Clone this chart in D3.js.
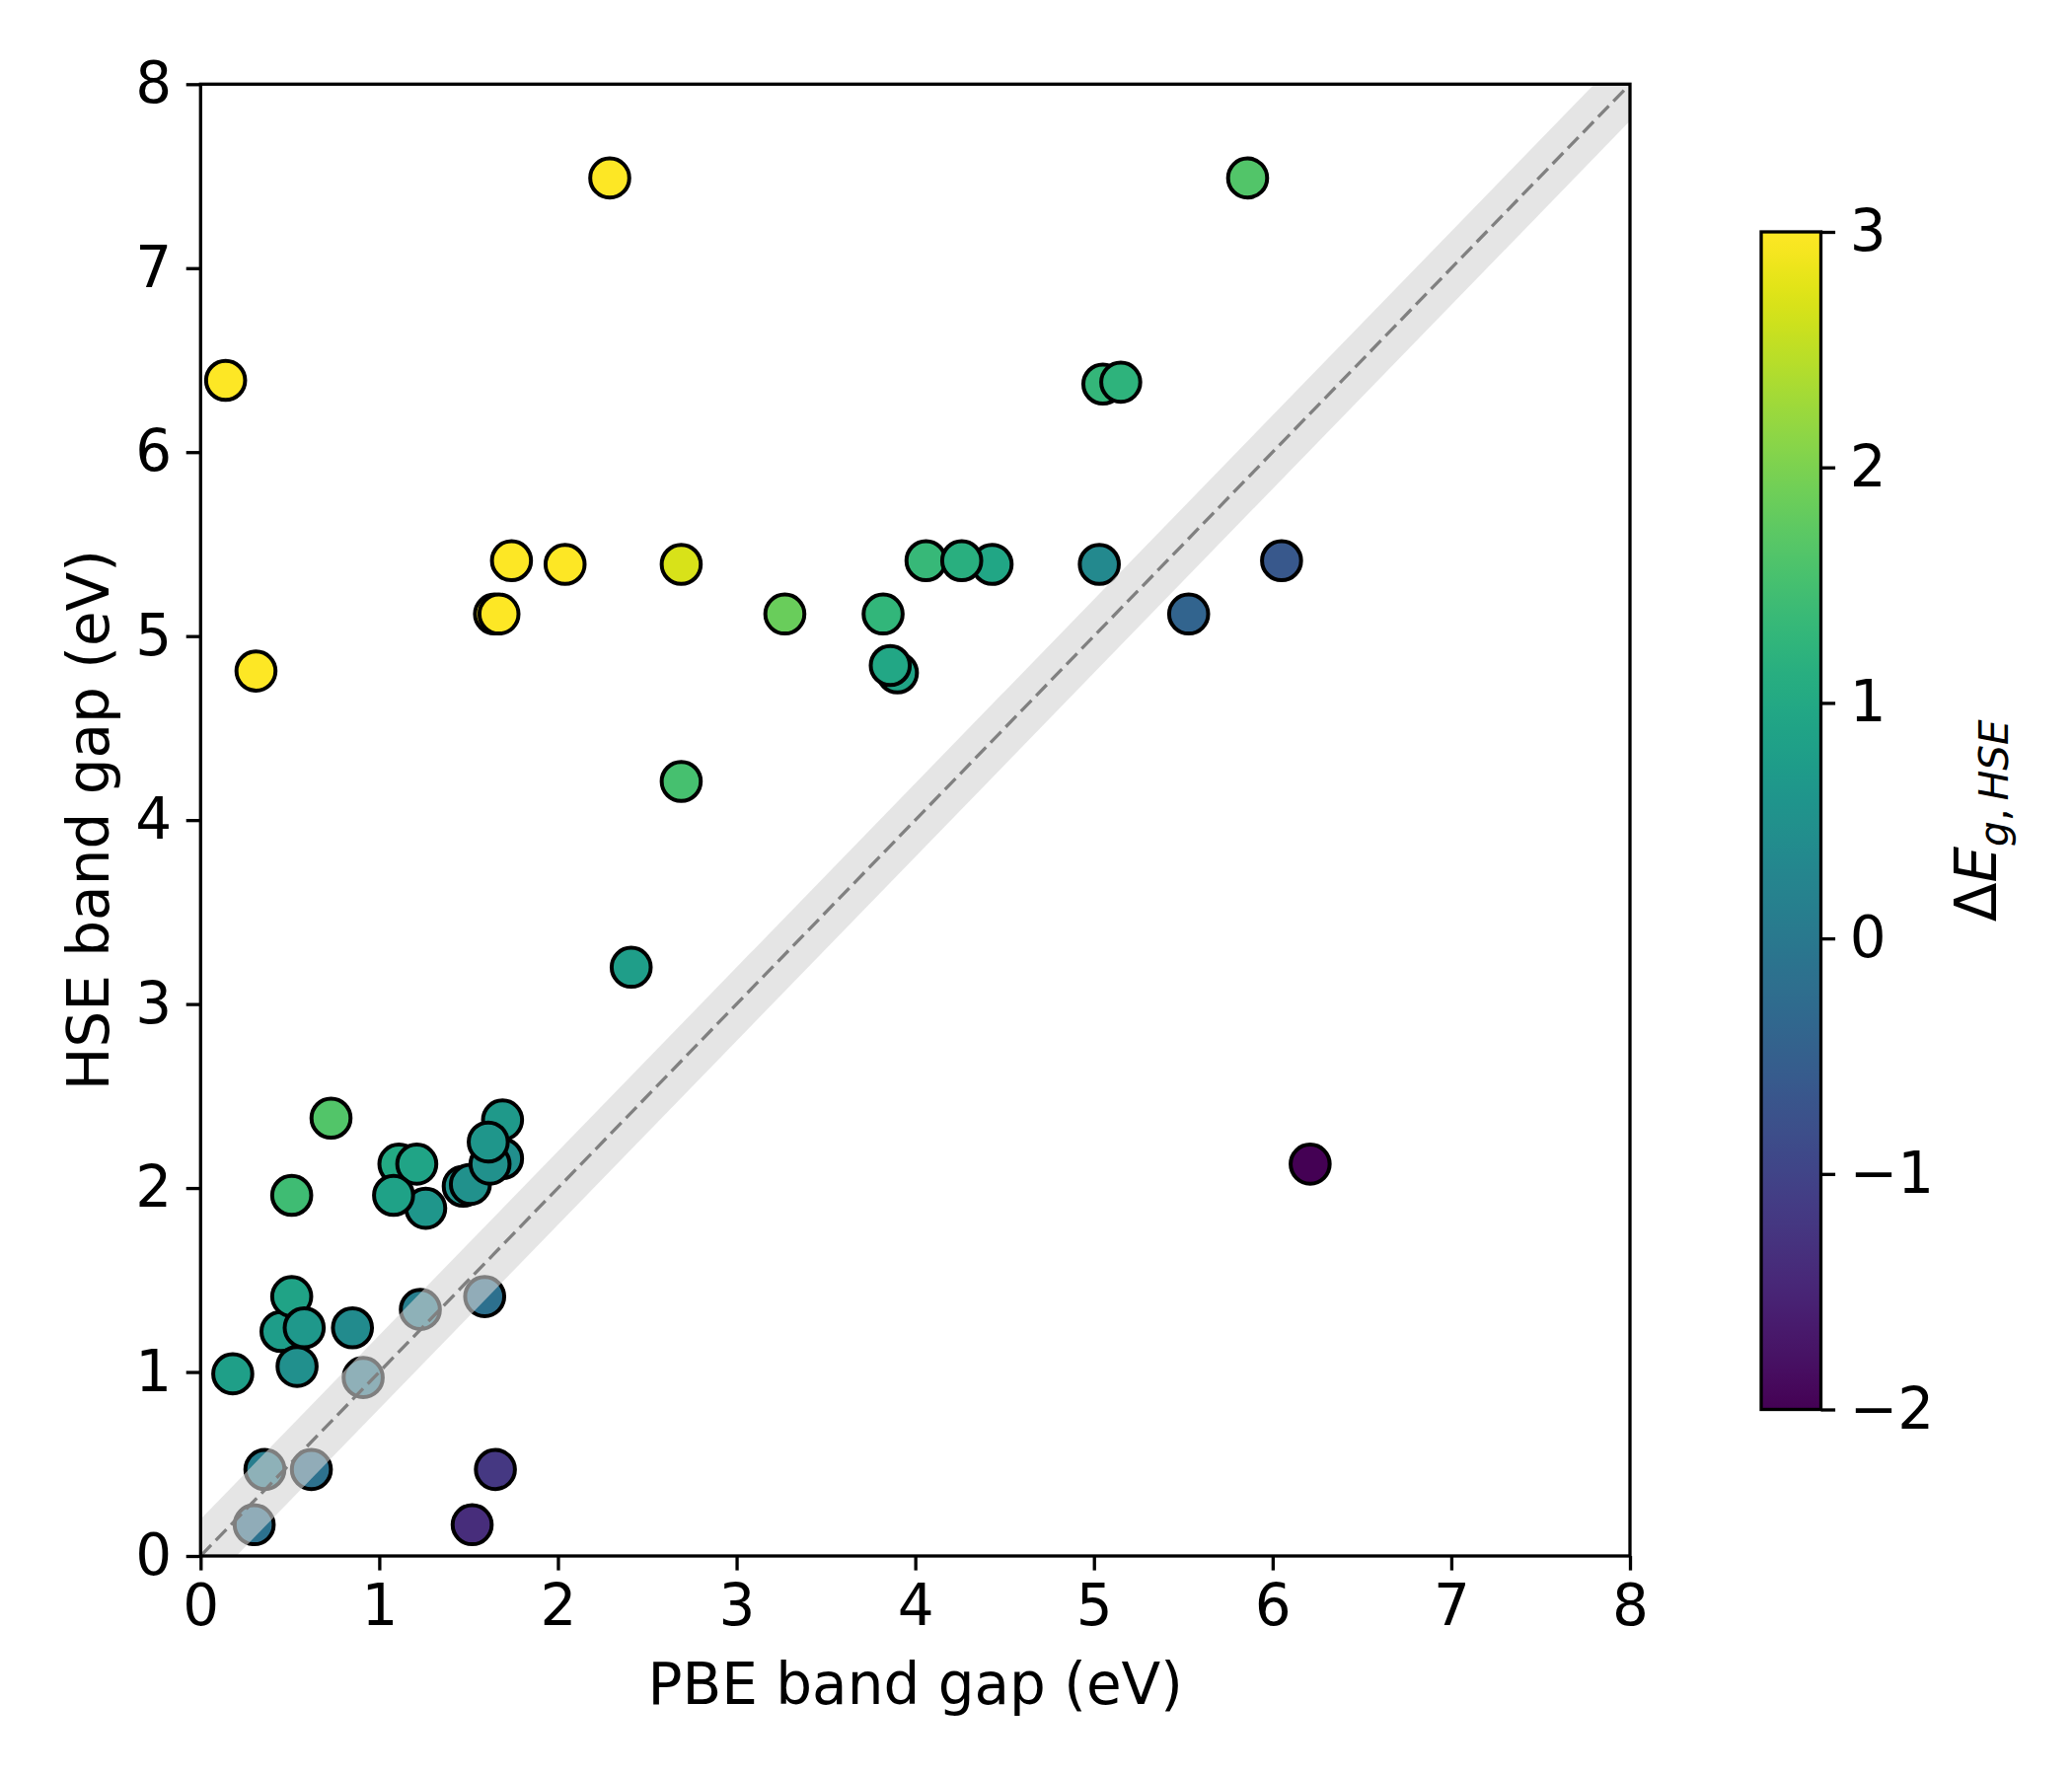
<!DOCTYPE html>
<html>
<head>
<meta charset="utf-8">
<script src="https://cdn.jsdelivr.net/npm/d3@7"></script>
<style>
  html, body { margin: 0; padding: 0; background: #ffffff; }
  svg { display: block; }
  text { font-family: "DejaVu Sans", sans-serif; fill: #000; }
</style>
</head>
<body>
<svg id="chart" width="2100" height="1800"></svg>
<script>
// ---- data ----
const pbeGap = [2.29, 5.86, 0.14, 0.31, 1.74, 2.04, 2.69, 1.645, 1.67, 3.27,
                3.82, 3.90, 3.86, 4.06, 4.43, 4.26, 5.05, 5.15, 5.03, 5.53,
                6.05, 6.21, 2.69, 2.41, 0.73, 0.51, 0.18, 0.45, 0.51, 0.54,
                0.58, 0.85, 0.91, 1.23, 1.59, 0.36, 0.62, 0.30, 1.65, 1.52,
                1.11, 1.21, 1.26, 1.08, 1.47, 1.51, 1.69, 1.69, 1.62, 1.61];
const hseGap = [7.49, 7.49, 6.39, 4.81, 5.41, 5.39, 5.39, 5.12, 5.12, 5.12,
                5.12, 4.80, 4.84, 5.41, 5.39, 5.41, 6.37, 6.38, 5.39, 5.12,
                5.41, 2.13, 4.21, 3.20, 2.38, 1.96, 0.99, 1.22, 1.41, 1.03,
                1.24, 1.24, 0.97, 1.34, 1.41, 0.47, 0.47, 0.17, 0.47, 0.17,
                2.13, 2.13, 1.89, 1.96, 2.01, 2.02, 2.37, 2.16, 2.13, 2.25];
const deltaE = [5.20, 1.64, 6.25, 4.50, 3.67, 3.35, 2.70, 3.50, 3.45, 1.85,
                1.30, 0.90, 0.98, 1.35, 0.96, 1.15, 1.32, 1.23, 0.36, -0.41,
                -0.64, -4.08, 1.52, 0.79, 1.65, 1.45, 0.81, 0.77, 0.90, 0.49,
                0.66, 0.39, 0.07, 0.11, -0.18, 0.11, -0.15, -0.14, -1.18, -1.36,
                1.02, 0.92, 0.63, 0.88, 0.55, 0.51, 0.68, 0.47, 0.51, 0.63];
const xTicks = [0, 1, 2, 3, 4, 5, 6, 7, 8];
const yTicks = [0, 1, 2, 3, 4, 5, 6, 7, 8];
const cbTicks = [-2, -1, 0, 1, 2, 3];
const cbTickLabels = ["\u22122", "\u22121", "0", "1", "2", "3"];
const bandHalfWidth = 0.2;
const xLabel = "PBE band gap (eV)";
const yLabel = "HSE band gap (eV)";

// ---- layout ----
const svg = d3.select("#chart");
const L = 203.3, R = 1652, T = 85.3, B = 1577;
const FS = 58;
const x = d3.scaleLinear().domain([0, 8]).range([L, R]);
const y = d3.scaleLinear().domain([0, 8]).range([B, T]);
const color = d3.scaleSequential(d3.interpolateViridis).domain([-2, 3]).clamp(true);

svg.append("defs").append("clipPath").attr("id", "plotclip")
  .append("rect").attr("x", L).attr("y", T).attr("width", R - L).attr("height", B - T);

const plot = svg.append("g").attr("clip-path", "url(#plotclip)");

// points
const pts = pbeGap.map((v, i) => ({ x: v, y: hseGap[i], c: deltaE[i] }));
plot.selectAll("circle.pt").data(pts).enter().append("circle")
  .attr("class", "pt")
  .attr("cx", d => x(d.x)).attr("cy", d => y(d.y)).attr("r", 19.8)
  .attr("fill", d => color(d.c))
  .attr("stroke", "#000").attr("stroke-width", 4);

// band y = x +- 0.2, drawn above the points
const bandX = [0, 8];
const area = d3.area().x(d => x(d)).y0(d => y(d - bandHalfWidth)).y1(d => y(d + bandHalfWidth));
plot.append("path").datum(bandX).attr("d", area)
  .attr("fill", "#d3d3d3").attr("fill-opacity", 0.6);

// dashed identity line
plot.append("path").datum(bandX)
  .attr("d", d3.line().x(d => x(d)).y(d => y(d)))
  .attr("fill", "none").attr("stroke", "#808080").attr("stroke-width", 3.3)
  .attr("stroke-dasharray", "15.4,6.7");

// axes
const xAxis = d3.axisBottom(x).tickValues(xTicks).tickFormat(d3.format("d"))
  .tickSize(14.6).tickPadding(14.6).tickSizeOuter(0);
const yAxis = d3.axisLeft(y).tickValues(yTicks).tickFormat(d3.format("d"))
  .tickSize(14.6).tickPadding(14.6).tickSizeOuter(0);

const gx = svg.append("g").attr("transform", `translate(0,${B})`).call(xAxis);
const gy = svg.append("g").attr("transform", `translate(${L},0)`).call(yAxis);
[gx, gy].forEach(g => {
  g.select(".domain").remove();
  g.selectAll(".tick line").attr("stroke", "#000").attr("stroke-width", 3.3);
  g.selectAll(".tick text").attr("font-size", FS).attr("font-family", "DejaVu Sans").attr("fill", "#000");
});

// frame (spines)
svg.append("rect").attr("x", L).attr("y", T).attr("width", R - L).attr("height", B - T)
  .attr("fill", "none").attr("stroke", "#000").attr("stroke-width", 3.3);

// axis labels
svg.append("text").attr("x", (L + R) / 2).attr("y", 1727)
  .attr("text-anchor", "middle").attr("font-size", FS).text(xLabel);
svg.append("text").attr("transform", `translate(110,${(T + B) / 2}) rotate(-90)`)
  .attr("text-anchor", "middle").attr("font-size", FS).text(yLabel);

// ---- colorbar ----
const CL = 1785, CR = 1845.5, CT = 235, CB = 1428.5;
const cb = d3.scaleLinear().domain([-2, 3]).range([CB, CT]);
const grad = svg.select("defs").append("linearGradient").attr("id", "viridis")
  .attr("x1", "0").attr("y1", "1").attr("x2", "0").attr("y2", "0");
d3.range(0, 1.0001, 1 / 64).forEach(t => {
  grad.append("stop").attr("offset", t).attr("stop-color", d3.interpolateViridis(t));
});
svg.append("rect").attr("x", CL).attr("y", CT).attr("width", CR - CL).attr("height", CB - CT)
  .attr("fill", "url(#viridis)");
svg.append("rect").attr("x", CL).attr("y", CT).attr("width", CR - CL).attr("height", CB - CT)
  .attr("fill", "none").attr("stroke", "#000").attr("stroke-width", 3.3);

const cbAxis = d3.axisRight(cb).tickValues(cbTicks)
  .tickFormat((d, i) => cbTickLabels[i]).tickSize(14.6).tickPadding(14.6).tickSizeOuter(0);
const gcb = svg.append("g").attr("transform", `translate(${CR},0)`).call(cbAxis);
gcb.select(".domain").remove();
gcb.selectAll(".tick line").attr("stroke", "#000").attr("stroke-width", 3.3);
gcb.selectAll(".tick text").attr("font-size", FS).attr("font-family", "DejaVu Sans").attr("fill", "#000");

// colorbar label: ΔE_{g,HSE}
const cbl = svg.append("text")
  .attr("transform", `translate(2023,${(CT + CB) / 2}) rotate(-90)`)
  .attr("text-anchor", "middle").attr("font-size", FS);
cbl.append("tspan").text("\u0394");
cbl.append("tspan").attr("font-style", "italic").text("E");
cbl.append("tspan").attr("font-style", "italic").attr("font-size", FS * 0.7).attr("dy", 12).text("g");
cbl.append("tspan").attr("font-size", FS * 0.7).text(",\u2009");
cbl.append("tspan").attr("font-style", "italic").attr("font-size", FS * 0.7).text("HSE");
</script>
</body>
</html>
